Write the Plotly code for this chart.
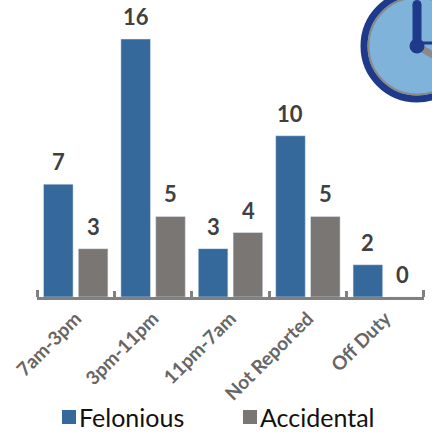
import plotly.graph_objects as go

categories = ["7am-3pm", "3pm-11pm", "11pm-7am", "Not Reported", "Off Duty"]
felonious = [7, 16, 3, 10, 2]
accidental = [3, 5, 4, 5, 0]
series_names = ["Felonious", "Accidental"]

W, H = 432, 433
ML, MR, MT, MB = 37, 8, 0, 136
BLUE, GREY = "#35689B", "#7A7674"
NAVY, SKY = "#1F3A8A", "#7FB3DA"
FONT = "Lato"
LABEL = dict(family=FONT, size=22, color="#404040", weight=700)

fig = go.Figure()
fig.add_bar(name=series_names[0], x=categories, y=felonious, marker_color=BLUE)
fig.add_bar(name=series_names[1], x=categories, y=accidental, marker_color=GREY)

# value labels sit higher above the bars than plotly's outside text allows
for series, shift in ((felonious, -17.5), (accidental, 17.5)):
    for cat, val in zip(categories, series):
        fig.add_annotation(x=cat, y=val, text=str(val), showarrow=False, yanchor="bottom",
                           xshift=shift, yshift=7, font=LABEL)


def px(x):
    return (x - ML) / (W - ML - MR)


def py(y):
    return 1 - (y - MT) / (H - MT - MB)


def line(x0, y0, x1, y1, color, width):
    fig.add_shape(type="line", xref="paper", yref="paper",
                  x0=px(x0), y0=py(y0), x1=px(x1), y1=py(y1),
                  line=dict(color=color, width=width))


def disc(cx, cy, r, fill, edge=None, width=0):
    fig.add_shape(type="circle", xref="paper", yref="paper",
                  x0=px(cx - r), x1=px(cx + r), y0=py(cy + r), y1=py(cy - r),
                  fillcolor=fill, line=dict(color=edge or fill, width=width))


# clock decoration, top right
disc(417, 46, 53, SKY, NAVY, 7)
disc(417, 46, 48.5, "rgba(0,0,0,0)", "#8A8A8A", 2)
line(417, 46, 445, 62, "#8A8A8A", 7)
line(417, 43, 445, 43, NAVY, 3)
line(417, 46, 417, 5, NAVY, 9)
disc(417, 4.5, 4.5, NAVY)
disc(417, 46, 7.5, NAVY)

# end ticks of the axis
for x in (37.5, 423.5):
    line(x, 297, x, 290, "#808080", 3)

# legend: large swatches hugging their labels, which plotly's own legend cannot do
for name, color, swatch_x, text_x in ((series_names[0], BLUE, 62, 77),
                                      (series_names[1], GREY, 243, 258)):
    fig.add_shape(type="rect", xref="paper", yref="paper",
                  x0=px(swatch_x), x1=px(swatch_x + 14), y0=py(424), y1=py(410),
                  fillcolor=color, line_width=0)
    fig.add_annotation(xref="paper", yref="paper", x=px(text_x), y=py(417), text=name,
                       showarrow=False, xanchor="left", yanchor="middle",
                       font=dict(family=FONT, size=25, color="#111111"))

fig.update_layout(
    width=W, height=H,
    margin=dict(l=ML, r=MR, t=MT, b=MB, autoexpand=False),
    paper_bgcolor="white", plot_bgcolor="white",
    barmode="group", bargap=0.1, bargroupgap=0.15,
    showlegend=False,
    xaxis=dict(tickangle=-45, tickson="boundaries", ticks="inside", ticklen=6,
               tickwidth=3, tickcolor="#808080", showline=True, linecolor="#808080",
               linewidth=3, showgrid=False,
               tickfont=dict(family=FONT, size=19, color="#666666", weight=700)),
    yaxis=dict(range=[0, 18.42], visible=False, showgrid=False, zeroline=False),
)

fig.write_html("out.html", config=dict(displayModeBar=False),
               post_script="document.body.style.margin='0';")
